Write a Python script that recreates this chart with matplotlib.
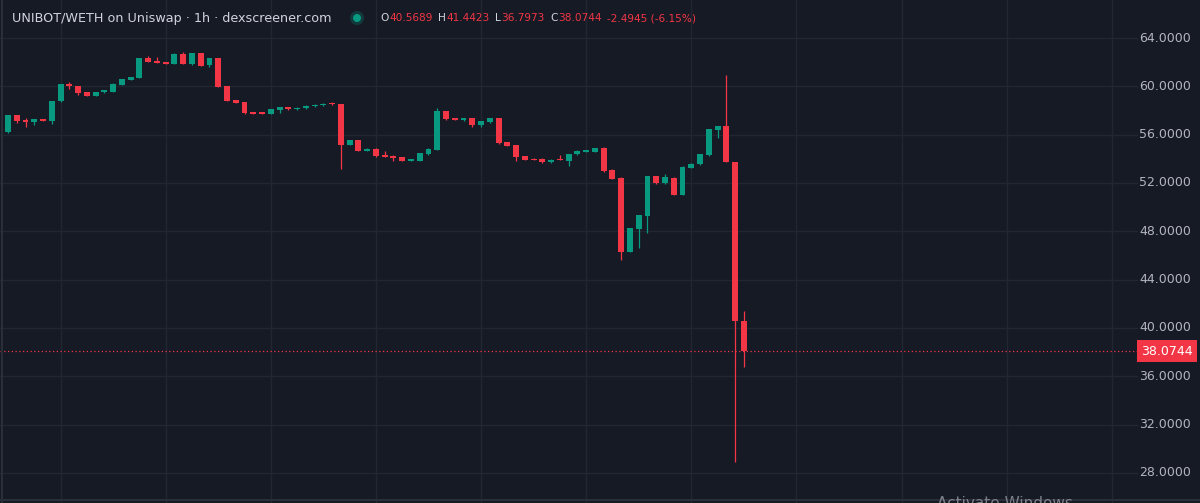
import matplotlib.pyplot as plt
import matplotlib.transforms as mtransforms
from matplotlib.patches import Circle

BG = "#161a25"
GRID = "#222631"
TEXT = "#d1d4dc"
AXIS_TXT = "#b2b5be"
UP = "#089981"
DOWN = "#f23645"

# hourly OHLC
opens = [56.20, 57.60, 57.20, 57.05, 57.30, 57.13, 58.75, 60.22, 60.03, 59.50,
         59.23, 59.50, 59.56, 60.14, 60.52, 60.67, 62.32, 62.10, 62.00, 61.87,
         62.70, 61.83, 62.76, 61.77, 62.32, 60.03, 58.90, 58.70, 57.85, 57.85,
         57.69, 58.00, 58.29, 58.10, 58.18, 58.35, 58.43, 58.56, 58.56, 55.15,
         55.53, 54.67, 54.84, 54.34, 54.26, 54.15, 53.85, 53.85, 54.37, 54.73,
         57.96, 57.35, 57.19, 57.40, 56.80, 57.02, 57.40, 55.39, 55.15, 54.23,
         54.01, 54.01, 53.71, 53.96, 53.85, 54.37, 54.60, 54.60, 54.92, 53.05,
         52.44, 46.29, 48.22, 49.27, 52.58, 51.97, 52.44, 51.03, 53.24, 53.55,
         54.29, 56.39, 56.72, 53.74, 40.5689]
highs = [57.65, 57.60, 57.35, 57.32, 57.32, 58.79, 60.22, 60.33, 60.03, 59.50,
         59.56, 59.68, 60.30, 60.60, 60.77, 62.32, 62.51, 62.40, 62.00, 62.72,
         62.84, 62.78, 62.78, 62.34, 62.32, 60.03, 58.90, 58.70, 57.86, 57.86,
         58.12, 58.30, 58.31, 58.25, 58.42, 58.50, 58.58, 58.70, 58.56, 55.55,
         55.55, 54.86, 54.86, 54.67, 54.28, 54.17, 53.98, 54.48, 54.86, 58.18,
         57.98, 57.37, 57.42, 57.42, 57.12, 57.42, 57.42, 55.41, 55.17, 54.25,
         54.03, 54.03, 53.95, 54.30, 54.44, 54.69, 54.72, 54.92, 54.94, 53.16,
         52.46, 48.30, 49.35, 52.60, 52.60, 52.75, 52.46, 53.37, 53.62, 54.42,
         56.46, 56.74, 60.90, 53.76, 41.4423]
lows = [56.15, 56.94, 56.60, 56.83, 57.10, 56.88, 58.70, 59.78, 59.26, 59.20,
        59.20, 59.48, 59.50, 60.12, 60.50, 60.65, 62.02, 61.95, 61.85, 61.85,
        61.83, 61.80, 61.68, 61.62, 59.95, 58.79, 58.60, 57.75, 57.72, 57.67,
        57.67, 57.80, 58.08, 58.08, 58.16, 58.33, 58.41, 58.48, 53.16, 55.13,
        54.65, 54.65, 54.19, 54.13, 53.85, 53.83, 53.83, 53.83, 54.35, 54.71,
        57.25, 57.19, 57.17, 56.60, 56.65, 57.00, 55.26, 55.07, 53.85, 53.91,
        53.88, 53.69, 53.69, 53.88, 53.40, 54.35, 54.58, 54.58, 52.95, 52.29,
        45.60, 46.27, 46.62, 47.84, 51.95, 51.95, 51.01, 51.01, 53.22, 53.53,
        54.27, 55.75, 53.72, 28.93, 36.7973]
closes = [57.63, 57.16, 57.05, 57.30, 57.13, 58.79, 60.22, 60.00, 59.47, 59.23,
          59.56, 59.67, 60.22, 60.58, 60.75, 62.32, 62.04, 61.96, 61.87, 62.70,
          61.85, 62.76, 61.70, 62.32, 59.97, 58.81, 58.62, 57.77, 57.74, 57.69,
          58.10, 58.29, 58.10, 58.23, 58.40, 58.48, 58.56, 58.50, 55.15, 55.53,
          54.67, 54.84, 54.21, 54.15, 54.07, 53.85, 53.96, 54.46, 54.84, 57.96,
          57.27, 57.21, 57.40, 56.80, 57.10, 57.40, 55.28, 55.09, 54.18, 53.93,
          53.90, 53.71, 53.93, 53.90, 54.42, 54.67, 54.70, 54.90, 52.97, 52.31,
          46.29, 48.28, 49.33, 52.58, 51.97, 52.47, 51.03, 53.35, 53.60, 54.40,
          56.44, 56.72, 53.74, 40.5689, 38.0744]

price_ticks = [28, 32, 36, 40, 44, 48, 52, 56, 60, 64]
title = "UNIBOT/WETH on Uniswap · 1h · dexscreener.com"

fig = plt.figure(figsize=(12, 5.03), dpi=100, facecolor=BG)
ax = fig.add_axes([0, 0, 1, 1], facecolor=BG)

# pixel layout: candle i sits at 8 + 8.76*i px, 64 at y=38px, 4 units = 48.33px
step = 8.76
ax.set_xlim(-8 / step, (1200 - 8) / step)
ax.set_ylim(64 - (503 - 38) / 12.083, 64 + 38 / 12.083)
ax.axis("off")

# grid
for p in price_ticks:
    ax.axhline(p, xmax=1137 / 1200, color=GRID, lw=1, zorder=0)
for gx in range(6, 130, 12):
    ax.axvline(gx, color=GRID, lw=1, zorder=0)

# candles
idx = list(range(len(opens)))
cols = [UP if c >= o else DOWN for o, c in zip(opens, closes)]
bottoms = [min(o, c) for o, c in zip(opens, closes)]
heights = [max(abs(c - o), 0.09) for o, c in zip(opens, closes)]
ax.vlines(idx, lows, highs, colors=cols, linewidth=0.9, zorder=2)
ax.bar(idx, heights, bottom=bottoms, width=0.68, color=cols, linewidth=0, zorder=3)

# last price line + price scale
last = closes[-1]
ax.axhline(last, xmax=1138 / 1200, color=DOWN, lw=0.9, ls=(0, (1, 2)), zorder=1)
blend = mtransforms.blended_transform_factory(ax.transAxes, ax.transData)
for p in price_ticks:
    ax.text(1191 / 1200, p, f"{p:.4f}", transform=blend, ha="right", va="center",
            fontsize=9, color=AXIS_TXT)
ax.text(1167 / 1200, last, f"{last:.4f}", transform=blend, ha="center", va="center",
        fontsize=9, color="white",
        bbox=dict(boxstyle="square,pad=0.35", fc=DOWN, ec="none"))

# header overlay in pixel coordinates
ov = fig.add_axes([0, 0, 1, 1], facecolor="none")
ov.set_xlim(0, 1200)
ov.set_ylim(503, 0)
ov.axis("off")
ov.axvline(2, color="#2a2e39", lw=1.5)
ov.axhline(500, color="#2a2e39", lw=1.5)

ov.text(12, 18, title, ha="left", va="center", fontsize=9.2, color=TEXT)
ov.add_patch(Circle((357, 18), 7, color=UP, alpha=0.25, lw=0))
ov.add_patch(Circle((357, 18), 4, color=UP, lw=0))

o, h, l, c = opens[-1], highs[-1], lows[-1], closes[-1]
chg = c - closes[-2]
pct = chg / closes[-2] * 100
parts = [("O", TEXT, 1), (f"{o:.4f}", DOWN, 5),
         ("H", TEXT, 1), (f"{h:.4f}", DOWN, 5),
         ("L", TEXT, 1), (f"{l:.4f}", DOWN, 5),
         ("C", TEXT, 1), (f"{c:.4f}", DOWN, 5),
         (f"{chg:.4f} ({pct:.2f}%)", DOWN, 0)]
fig.canvas.draw()
rend = fig.canvas.get_renderer()
px = 380
for s, col, gap in parts:
    t = ov.text(px, 18, s, ha="left", va="center", fontsize=7.6, color=col)
    px += t.get_window_extent(rend).width + gap

ov.text(937, 496, "Activate Windows", ha="left", va="top", fontsize=11,
        color="#7d808a")

fig.savefig("out.png", dpi=100, facecolor=BG)
